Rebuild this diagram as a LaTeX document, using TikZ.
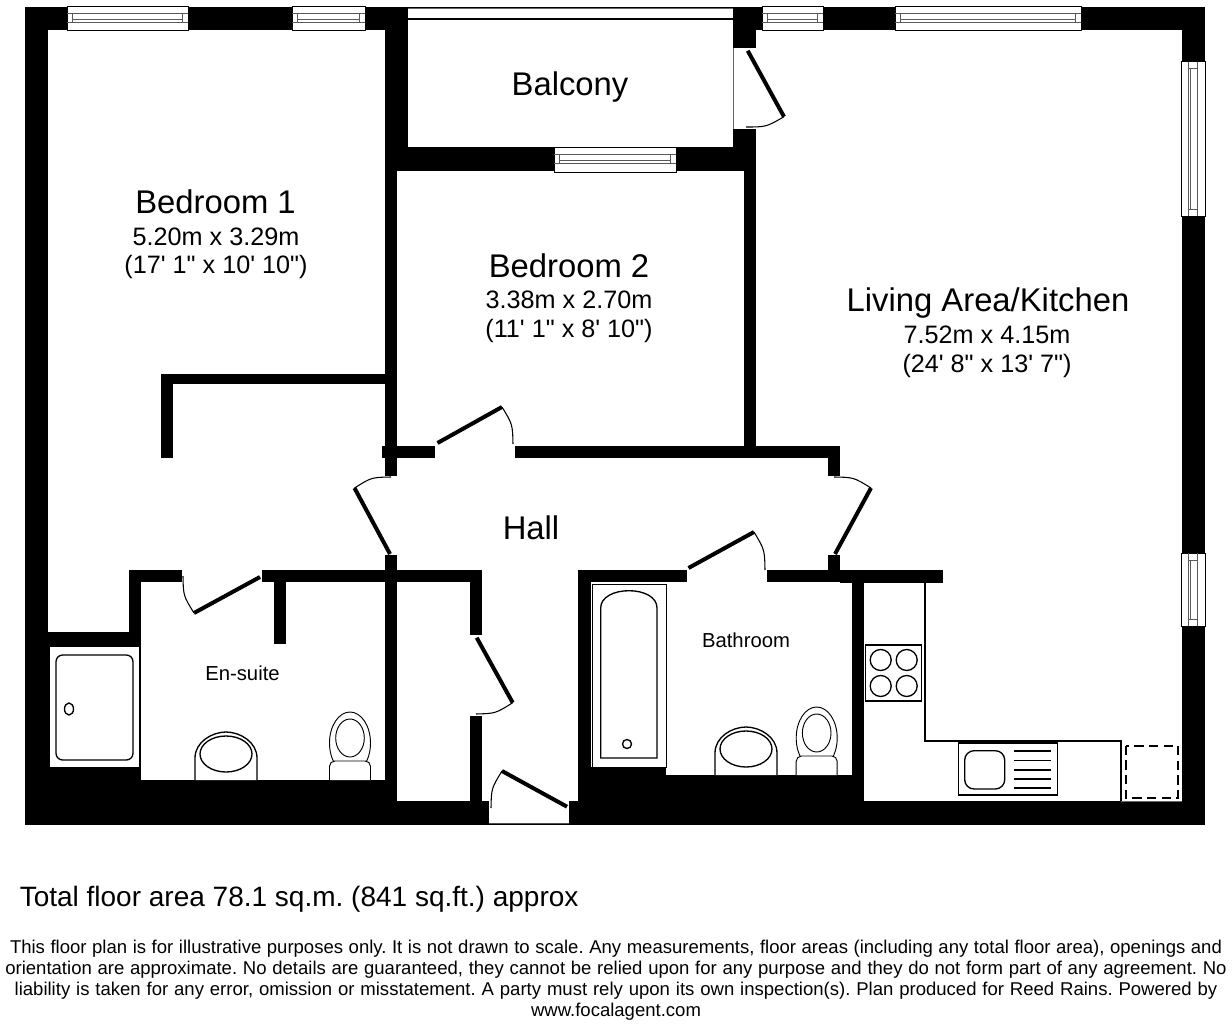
\documentclass[tikz,border=0pt]{standalone}
\usepackage{fontspec}
\usetikzlibrary{calc}
\newfontfamily\planfont{Liberation Sans}
\newcommand\doorswing[3]{% hinge, tip, arc end
  \draw[doorleaf] (#1) -- (#2);
  \draw[doorarc] (#2) .. controls ($(#1)!1.072!($(#2)!.5!(#3)$)$) .. (#3);}
\newcommand\hwin[3]{% x1,x2,ytop
  \draw[winframe] (#1,#3) rectangle (#2,#3+24.5);
  \draw[winline] (#1,#3+7.3) -- (#2,#3+7.3);
  \draw[winline] (#1,#3+15.8) -- (#2,#3+15.8);
  \draw[winline] (#1+5.5,#3+7.3) -- (#1+5.5,#3+15.8);
  \draw[winline] (#2-5.5,#3+7.3) -- (#2-5.5,#3+15.8);
  \draw[winline] (#1+5.5,#3+12.8) -- (#2-5.5,#3+12.8);}
\newcommand\vwin[3]{% y1,y2,xleft
  \draw[winframe] (#3,#1) rectangle (#3+24.5,#2);
  \draw[winline] (#3+7.5,#1) -- (#3+7.5,#2);
  \draw[winline] (#3+16,#1) -- (#3+16,#2);
  \draw[winline] (#3+7.5,#1+7) -- (#3+16,#1+7);
  \draw[winline] (#3+7.5,#2-7) -- (#3+16,#2-7);
  \draw[winline] (#3+9.5,#1+7) -- (#3+9.5,#2-7);}
\newcommand\basin[2]{% centre x, bottom y
  \draw[fix,fill=white] (#1-31,#2) -- (#1-31,#2-22) .. controls (#1-31,#2-38) and (#1-14,#2-48) .. (#1,#2-48) .. controls (#1+14,#2-48) and (#1+31,#2-38) .. (#1+31,#2-22) -- (#1+31,#2);
  \draw[fix] (#1,#2-26) ellipse [x radius=26,y radius=18];}
\newcommand\wc[2]{% centre x, bottom y
  \draw[thinfix] (#1,#2-37) ellipse [x radius=20.5,y radius=31];
  \draw[thinfix] (#1,#2-42) ellipse [x radius=14.3,y radius=19];
  \draw[thinfix,fill=white,rounded corners=4pt] (#1-20.5,#2) -- (#1-20.5,#2-19) -- (#1+20.5,#2-19) -- (#1+20.5,#2);}
\tikzset{
  x=0.75pt,y=-0.75pt,
  wall/.style={fill=black,draw=none},
  room/.style={fill=white,draw=none},
  doorleaf/.style={draw=black,line width=3pt},
  doorarc/.style={draw=black,line width=0.8pt},
  winframe/.style={draw=black,fill=white,line width=0.75pt},
  winline/.style={draw=black!65,line width=0.75pt},
  fix/.style={draw=black,line width=1pt},
  thinfix/.style={draw=black,line width=0.7pt},
  big/.style={inner sep=0pt,font=\planfont\frenchspacing\fontsize{24.6}{28}\selectfont},
  mid/.style={inner sep=0pt,font=\planfont\frenchspacing\fontsize{18.9}{22}\selectfont},
  small/.style={inner sep=0pt,font=\planfont\frenchspacing\fontsize{15.2}{18}\selectfont},
  total/.style={inner sep=0pt,font=\planfont\frenchspacing\fontsize{21}{24}\selectfont},
  legal/.style={inner sep=0pt,font=\planfont\frenchspacing\fontsize{13.9}{16}\selectfont},
}
\begin{document}
\begin{tikzpicture}
\useasboundingbox (0,0) rectangle (1232,1024);
\fill[white] (0,0) rectangle (1232,1024);
% building block
\fill[wall] (25,7) rectangle (1205,825);
% Bedroom 1
\fill[room] (48,30) rectangle (385,570);
\fill[room] (48,570) rectangle (129,632);
% Balcony
\fill[room] (408,19) rectangle (733,147);
\fill[room] (408,8) rectangle (733,19);
\draw[draw=black!60,line width=0.7pt] (408,8) -- (733,8);
\draw[draw=black,line width=1pt] (408,19) -- (733,19);
% Bedroom 2
\fill[room] (397,171) rectangle (744,446);
% Living
\fill[room] (756,30) rectangle (1182,570);
\fill[room] (864,570) rectangle (1182,801);
\fill[room] (840,458) rectangle (864,570);
% balcony door gap
\fill[room] (733,48) rectangle (756,129);
% Hall
\fill[room] (397,458) rectangle (840,570);
\fill[room] (482,570) rectangle (578,801);
\fill[room] (489,801) rectangle (569,823);
\fill[room] (385,476) rectangle (397,555);
% Door gaps
\fill[room] (434.7,446) rectangle (515,458);
\fill[room] (182,570) rectangle (262,582);
\fill[room] (686.7,570) rectangle (767,582);
\fill[room] (470,635) rectangle (482,715.5);
% En-suite
\fill[room] (141,582) rectangle (385,780);
\fill[room] (49,646) rectangle (139,767);
% Cupboard
\fill[room] (397,582) rectangle (470,801);
% Bathroom
\fill[room] (590.5,582) rectangle (852,775);
\fill[wall] (590.5,767) rectangle (666,775);
% Interior stubs
\fill[wall] (385,445.7) rectangle (397,476);
\fill[wall] (382,445.7) rectangle (434.7,458);
\fill[wall] (515,445.7) rectangle (840,458);
\fill[wall] (828,458) rectangle (840,476);
\fill[wall] (828,555) rectangle (840,582);
\fill[wall] (385,555) rectangle (397,801);
\fill[wall] (840,570) rectangle (943,582.5);
\fill[wall] (852,582) rectangle (864,801);
\fill[wall] (161,374) rectangle (385,384);
\fill[wall] (161,374) rectangle (173,458);
\fill[wall] (274,582) rectangle (286,644);
% Windows
\hwin{67}{188}{6.5}
\hwin{292}{365}{6.5}
\hwin{554}{676}{147.5}
\hwin{762}{823}{6.5}
\hwin{895}{1081}{6.5}
\vwin{62}{216}{1181}
\vwin{553}{626}{1181}
% Doors
\doorswing{390,554}{354.5,488}{391,477}
\doorswing{437.5,443}{502,407}{513,444}
\doorswing{835,554}{871,488}{834,477}
\doorswing{688.5,568}{754,532}{765,570}
\doorswing{260,577}{194,613}{183,576}
\doorswing{476.7,637.7}{512.7,702.7}{476,714}
\doorswing{747.7,50.7}{784,116.7}{746,127}
\doorswing{567,806.7}{502,771}{491,808}
\draw[draw=black!60,line width=0.7pt] (733,48) -- (733,129);
\draw[draw=black!70,line width=0.7pt] (489,823) -- (569,823);
% Shower
\draw[thinfix] (49.5,646.5) rectangle (139,767);
\draw[fix,rounded corners=5pt] (56,655) rectangle (133,760);
\draw[fix] (69,709) ellipse [x radius=4.5,y radius=6];
% Bath
\draw[thinfix] (592,584) rectangle (666,767);
\draw[fix] (600.7,758) -- (600.7,608) .. controls (600.7,597) and (614,590.7) .. (629,590.7) .. controls (644,590.7) and (657,597) .. (657,608) -- (657,758) -- cycle;
\draw[fix] (627,744) circle [radius=4.5];
% Sanitary ware
\basin{226}{780}
\wc{350}{780}
\basin{746}{775}
\wc{816.7}{775}
% Kitchen
\draw[fix] (925,582) -- (925,741) -- (1121,741) -- (1121,801);
\draw[draw=black!60,line width=0.6pt] (1121,801) -- (1182,801);
\draw[fix] (865.7,645) rectangle (921.7,701);
\draw[fix] (880.7,660) circle [radius=10.5];
\draw[fix] (906.7,660) circle [radius=10.5];
\draw[fix] (880.7,686) circle [radius=10.5];
\draw[fix] (906.7,686) circle [radius=10.5];
\draw[fix] (958.7,743) rectangle (1057.7,795);
\draw[fix,rounded corners=7pt] (964.7,750.7) rectangle (1004.7,789);
\foreach \yy in {751,760.5,770,779,788} \draw[fix] (1014,\yy) -- (1050.7,\yy);
\draw[draw=black,line width=1.3pt,dash pattern=on 7pt off 4pt] (1125.7,745.7) rectangle (1178,797.7);
% Labels
\node[big] (balcony) at (570,87) {Balcony};
\node[big] (bed1) at (215.5,201.5) {Bedroom 1};
\node[mid] (bed1a) at (216,237) {5.20m x 3.29m};
\node[mid] (bed1b) at (216,267) {(17' 1" x 10' 10")};
\node[big] (bed2) at (569,265.5) {Bedroom 2};
\node[mid] (bed2a) at (569,300) {3.38m x 2.70m};
\node[mid] (bed2b) at (569,331) {(11' 1" x 8' 10")};
\node[big] (living) at (988,303) {Living Area/Kitchen};
\node[mid] (livinga) at (987,335) {7.52m x 4.15m};
\node[mid] (livingb) at (987,366) {(24' 8" x 13' 7")};
\node[big] (hall) at (531,527.5) {Hall};
\node[small] (ensuite) at (242.5,673) {En-suite};
\node[small] (bath) at (746,640) {Bathroom};
\node[total,anchor=west] (area) at (19.5,899) {Total floor area 78.1 sq.m. (841 sq.ft.) approx};
\node[legal] (l1) at (616,949) {\makebox[909pt][s]{This floor plan is for illustrative purposes only. It is not drawn to scale. Any measurements, floor areas (including any total floor area), openings and}};
\node[legal] (l2) at (616,970) {\makebox[916pt][s]{orientation are approximate. No details are guaranteed, they cannot be relied upon for any purpose and they do not form part of any agreement. No}};
\node[legal] (l3) at (616,991) {\makebox[902pt][s]{liability is taken for any error, omission or misstatement. A party must rely upon its own inspection(s). Plan produced for Reed Rains. Powered by}};
\node[legal] (l4) at (616,1012) {www.focalagent.com};
\end{tikzpicture}
\end{document}
